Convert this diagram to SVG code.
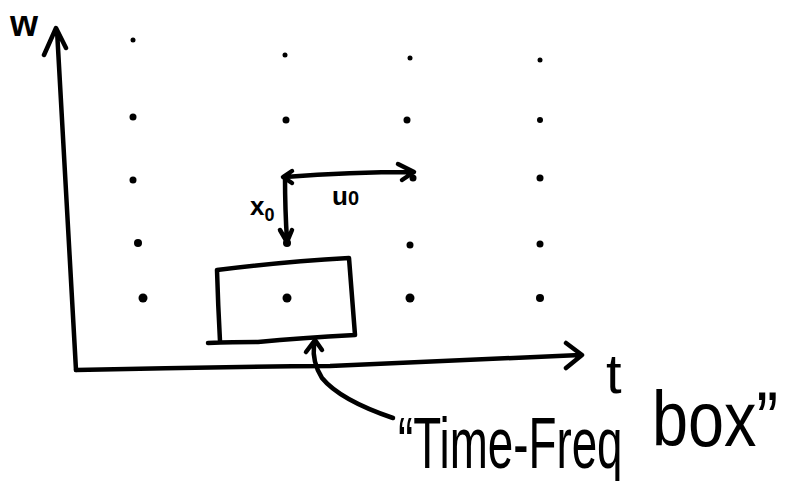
<svg xmlns="http://www.w3.org/2000/svg" width="791" height="481" viewBox="0 0 791 481">
<style>
.ink{fill:none;stroke:#000;stroke-width:4.5;stroke-linecap:round;stroke-linejoin:round}
.dot{fill:#000}
.lbl{font-family:"Liberation Sans",Arial,sans-serif;fill:#000}
</style>
<rect width="791" height="481" fill="#fff"/>
<g id="grid">
<circle class="dot" cx="133" cy="40" r="2.5"/>
<circle class="dot" cx="285" cy="55" r="2.5"/>
<circle class="dot" cx="410" cy="58" r="2.5"/>
<circle class="dot" cx="540" cy="60" r="2.5"/>
<circle class="dot" cx="133" cy="117" r="3.5"/>
<circle class="dot" cx="286" cy="120" r="3.5"/>
<circle class="dot" cx="407" cy="120" r="3.5"/>
<circle class="dot" cx="540" cy="120" r="3"/>
<circle class="dot" cx="133" cy="180" r="3.5"/>
<circle class="dot" cx="413" cy="178" r="3.5"/>
<circle class="dot" cx="540" cy="178" r="3.5"/>
<circle class="dot" cx="138" cy="243" r="4"/>
<circle class="dot" cx="287" cy="243" r="4"/>
<circle class="dot" cx="410" cy="245" r="3.5"/>
<circle class="dot" cx="540" cy="244" r="3.5"/>
<circle class="dot" cx="143" cy="298" r="4.5"/>
<circle class="dot" cx="287" cy="298" r="4.5"/>
<circle class="dot" cx="410" cy="298" r="4.5"/>
<circle class="dot" cx="540" cy="298" r="4"/>
</g>
<g id="box">
<path class="ink" d="M217 270 Q280 262 349 258 Q352 298 355 335 Q300 338 258 342 Q235 342 208 343 M217 270 Q218 305 220 341"/>
</g>
<g id="connectors">
<path class="ink" d="M76 370 Q66 200 57 30 M44 55 L56 28 L66 48"/>
<path class="ink" d="M76 370 Q200 367 330 366 Q460 360 580 355 M566 343 L582 355 L566 368"/>
<path class="ink" d="M285 177 Q350 172 413 172 M398 164 L414 172 L402 180 M292 171 L283 177 L292 183"/>
<path class="ink" d="M285 177 Q285 210 287 240 M280 230 L287 242 L292 230"/>
<path class="ink" d="M393 418 Q340 400 322 378 Q312 362 314 345 M306 352 L315 340 L322 350"/>
</g>
<g id="labels">
<text class="lbl" x="10" y="36" font-size="36" font-weight="bold">w</text>
<text class="lbl" x="606" y="393" font-size="56">t</text>
<text class="lbl" x="250" y="215" font-size="26" font-weight="bold">x<tspan font-size="18" dy="6">0</tspan></text>
<text class="lbl" x="332" y="205" font-size="26" font-weight="bold">u<tspan font-size="20">0</tspan></text>
<text class="lbl" font-size="52" transform="translate(398,468) scale(0.88,1.4)">“Time-Freq</text>
<text class="lbl" font-size="60" transform="translate(652,446) scale(1.08,1.3)">box”</text>
</g>
</svg>
